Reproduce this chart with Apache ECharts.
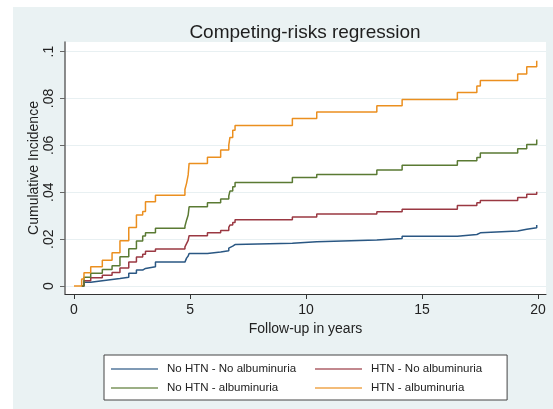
<!DOCTYPE html>
<html><head><meta charset="utf-8">
<script src="https://cdn.jsdelivr.net/npm/echarts@6/dist/echarts.min.js"></script>
<style>
html,body{margin:0;padding:0;background:#fff;width:553px;height:409px;overflow:hidden}
#c{position:absolute;left:13px;top:7px;width:540px;height:402px;background:#eaf2f3}
</style>
</head><body><div id="c"></div>
<script>
const chartTitle = 'Competing-risks regression';
const xTitle = 'Follow-up in years';
const yTitle = 'Cumulative Incidence';
const xTicks = [0, 5, 10, 15, 20];
const yTicks = [0, 0.02, 0.04, 0.06, 0.08, 0.1];
const groupNames = ['No HTN - No albuminuria', 'HTN - No albuminuria', 'No HTN - albuminuria', 'HTN - albuminuria'];
const groupColors = ['#2a5783', '#9a3842', '#5a7a33', '#eb8f1f'];

// shared event times (years)
const times = [0, 0.33, 0.43, 0.72, 1.22, 1.64, 1.98, 2.36, 2.69, 2.96, 3.08, 3.51,
  4.78, 4.85, 4.92, 4.96, 5.75, 6.32, 6.67, 6.72, 6.84, 6.94, 9.41, 10.46, 13.05,
  14.14, 16.52, 17.36, 17.51, 19.12, 19.51, 19.94];

const noHtnNoAlb = [null, 0, .0016, .0023, .0028, .0032, .0037, .0054, .0068, .0075, .0082, .0102,
  .0108, .0119, .0128, .0139, .0145, .0150, .0162, .0170, .0177, .0183, .0189, .0196, .0203,
  .0212, .0220, .0227, .0235, .0242, .0249, .0260];
const htnNoAlb = [null, 0, .0023, .0035, .0046, .0058, .0077, .0102, .0124, .0136, .0148, .0158,
  .0167, .0181, .0195, .0215, .0227, .0237, .0250, .0260, .0271, .0283, .0294, .0307, .0317,
  .0328, .0344, .0355, .0365, .0378, .0391, .0402];
const noHtnAlb = [null, 0, .0037, .0054, .0071, .0087, .0125, .0159, .0192, .0213, .0227, .0246,
  .0255, .0281, .0303, .0338, .0355, .0371, .0384, .0405, .0424, .0442, .0463, .0476, .0495,
  .0515, .0534, .0548, .0567, .0586, .0604, .0625];
const htnAlb = [0, .0030, .0057, .0082, .0110, .0142, .0193, .0250, .0303, .0318, .0360, .0387,
  .0412, .0438, .0474, .0523, .0549, .0580, .0601, .0634, .0665, .0685, .0715, .0742, .0769,
  .0796, .0826, .0853, .0877, .0905, .0935, .0961];

const groupValues = [noHtnNoAlb, htnNoAlb, noHtnAlb, htnAlb];
const legendColumn1 = [groupNames[0], groupNames[2]];
const legendColumn2 = [groupNames[1], groupNames[3]];

const font = '"Liberation Sans", Arial, sans-serif';
const chart = echarts.init(document.getElementById('c'), null, {renderer: 'canvas'});

const series = groupNames.map((name, i) => ({
  name: name,
  type: 'line',
  step: 'end',
  symbol: 'none',
  silent: true,
  animation: false,
  lineStyle: {color: groupColors[i], width: 1.5},
  itemStyle: {color: groupColors[i]},
  data: times.map((t, k) => [t, groupValues[i][k]]).filter(p => p[1] !== null)
}));

const legendCommon = {
  orient: 'vertical', top: 348,
  itemWidth: 47, itemHeight: 14, itemGap: 7,
  itemStyle: {opacity: 0},
  lineStyle: {width: 2, opacity: 0.6},
  selectedMode: false,
  textStyle: {fontFamily: font, fontSize: 11.5, color: '#222', padding: [0, 0, 0, 4]}
};

chart.setOption({
  animation: false,
  backgroundColor: 'transparent',
  textStyle: {fontFamily: font},
  title: {
    text: chartTitle, left: 287, top: 11, textAlign: 'center',
    textStyle: {fontFamily: font, fontSize: 19, fontWeight: 'normal', color: '#1e1e1e'}
  },
  grid: {
    left: 52, right: 7, top: 35, bottom: 115,
    show: true, backgroundColor: '#ffffff', borderWidth: 0
  },
  legend: [
    Object.assign({}, legendCommon, {
      left: 91, padding: [8, 211, 6, 6], z: 4,
      backgroundColor: '#ffffff', borderColor: '#444444', borderWidth: 1, borderRadius: 0,
      data: legendColumn1
    }),
    Object.assign({}, legendCommon, {
      left: 301, padding: [8, 0, 6, 0], z: 5,
      data: legendColumn2
    })
  ],
  xAxis: {
    type: 'value', min: -0.388, max: 20.34,
    name: xTitle, nameLocation: 'middle', nameGap: 22,
    nameTextStyle: {fontFamily: font, fontSize: 14, color: '#222'},
    axisLine: {show: true, onZero: false, lineStyle: {color: '#333', width: 1}},
    axisTick: {show: true, length: 5, customValues: xTicks, lineStyle: {color: '#333'}},
    axisLabel: {customValues: xTicks, margin: 9, fontFamily: font, fontSize: 14, color: '#222'},
    splitLine: {show: false}
  },
  yAxis: {
    type: 'value', min: -0.0034, max: 0.1041,
    name: yTitle, nameLocation: 'middle', nameGap: 24, nameMoveOverlap: false,
    nameTextStyle: {fontFamily: font, fontSize: 14, color: '#222'},
    axisLine: {show: true, onZero: false, lineStyle: {color: '#666', width: 1.5}},
    axisTick: {show: true, length: 5, customValues: yTicks, lineStyle: {color: '#666'}},
    axisLabel: {
      customValues: yTicks, rotate: 90, margin: 9,
      fontFamily: font, fontSize: 14, color: '#222',
      formatter: v => v === 0 ? '0' : String(+v.toFixed(3)).replace(/^0\./, '.')
    },
    splitLine: {show: true, lineStyle: {color: '#e8f0f2', width: 1}}
  },
  series: series
});
</script>
</body></html>
